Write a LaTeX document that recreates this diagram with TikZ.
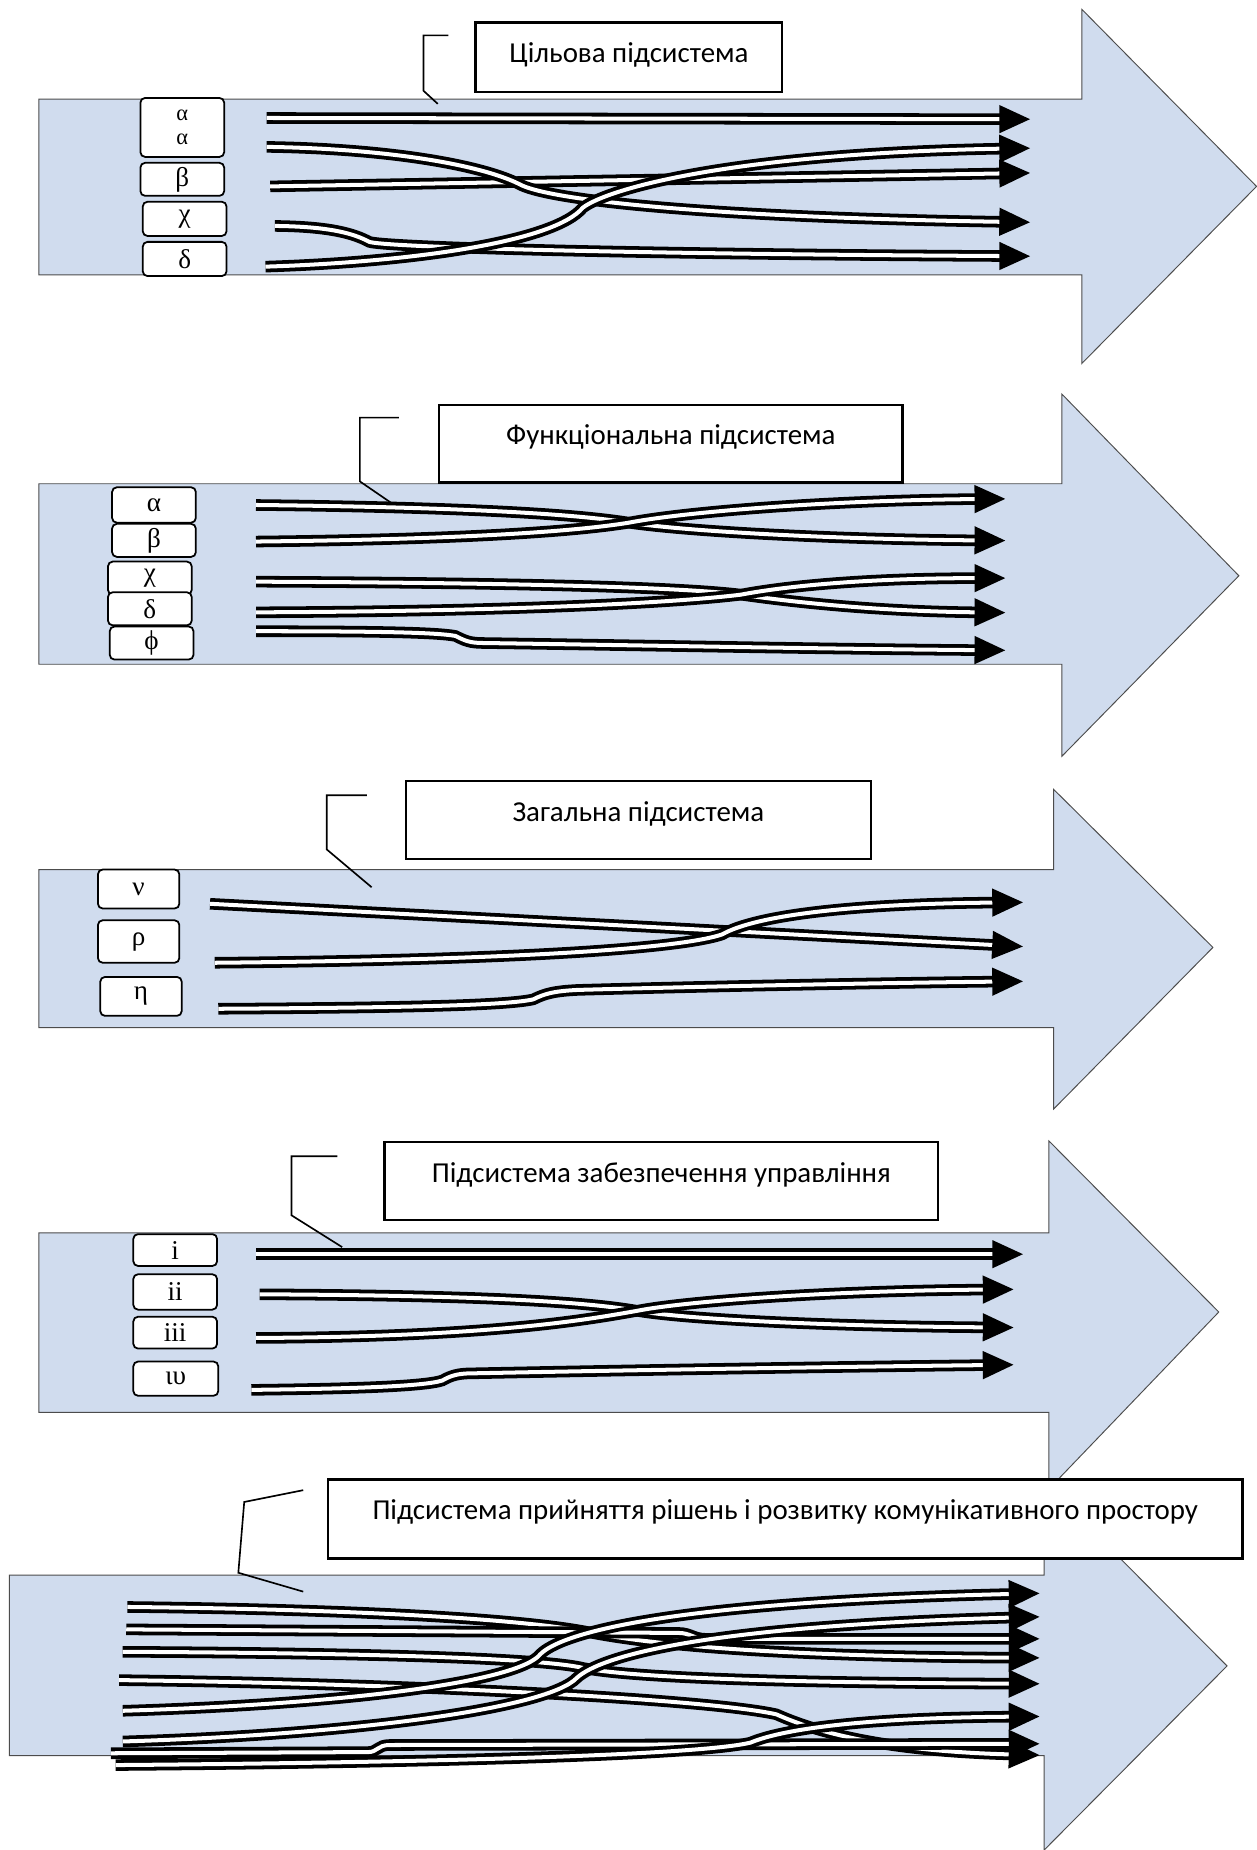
\documentclass[tikz,border=0pt]{standalone}
\usepackage{fontspec}
\setmainfont{Liberation Serif}
\newfontfamily\titlefont{Carlito}
\usetikzlibrary{decorations.markings}
\definecolor{azul}{RGB}{208,220,238}

\begin{document}
\begin{tikzpicture}[x=1pt, y=-1pt,
    flecha/.style={fill=azul, draw=black!70, line width=0.8pt},
    caja/.style={draw, fill=white, line width=2pt, inner sep=0pt,
      text height=34pt, text depth=#1, anchor=north west,
      font=\titlefont\fontsize{24.5}{28}\selectfont},
    llamada/.style={line width=1.4pt},
    etiqueta/.style={draw, fill=white, rounded corners=4pt, line width=1.5pt,
      minimum width=71pt, inner sep=0pt, align=center,
      font=\fontsize{23}{20}\selectfont},
    flujo/.style={double=white, double distance=3.4pt, line width=3.2pt,
      postaction={decorate}, decoration={markings, mark=at position -0.01pt
        with {\fill[black] (-2pt,-12pt) -- (24pt,0pt) -- (-2pt,12pt) -- cycle;}}}]

    \useasboundingbox (0,0) rectangle (1065,1568);

    % Primera flecha: subsistema objetivo.
    \draw[flecha] (33,84) -- (917,84) -- (917,8) -- (1065,158) -- (917,308)
      -- (917,233) -- (33,233) -- cycle;
    \node[caja=25pt, minimum width=260pt] (t1) at (402,18) {Цільова підсистема};
    \draw[llamada] (380,30) -- (359,30) -- (359,77) -- (371,88);
    \node[etiqueta, minimum height=50pt, font=\fontsize{19}{21}\selectfont] (a1)
      at (154.5,108) {α\\α};
    \node[etiqueta, minimum height=28pt] (b1) at (154.5,152) {β};
    \node[etiqueta, minimum height=29pt] (c1) at (156.5,185.5) {χ};
    \node[etiqueta, minimum height=29pt] (d1) at (156.5,219.5) {δ};

    \coordinate (p11) at (226,100);   \coordinate (q11) at (849,101);
    \coordinate (p12) at (226,124.5); \coordinate (q12) at (849,188);
    \coordinate (p13) at (229,158);   \coordinate (q13) at (849,147);
    \coordinate (p14) at (233,191.5); \coordinate (q14) at (849,217);
    \coordinate (p15) at (225,226);   \coordinate (q15) at (849,126);
    \draw[flujo] (p11) -- (q11);
    \draw[flujo] (p13) -- (q13);
    \draw[flujo] (p12) .. controls (330,126) and (410,140) .. (442,157)
      .. controls (470,170) and (600,184) .. (q12);
    \draw[flujo] (p14) .. controls (280,192) and (300,198) .. (313,205)
      .. controls (325,209) and (500,215) .. (q14);
    \draw[flujo] (p15) .. controls (350,222) and (470,205) .. (494,176)
      .. controls (515,160) and (620,130) .. (q15);

    % Segunda flecha: subsistema funcional.
    \draw[flecha] (33,410) -- (900,410) -- (900,334) -- (1050,488) -- (900,641)
      -- (900,563) -- (33,563) -- cycle;
    \node[caja=32pt, minimum width=393pt] (t2) at (371,342) {Функціональна підсистема};
    \draw[llamada] (338,354) -- (305,354) -- (305,408) -- (340,432);
    \node[etiqueta, minimum height=30pt] (a2) at (130.5,428) {α};
    \node[etiqueta, minimum height=28pt] (b2) at (130.5,458) {β};
    \node[etiqueta, minimum height=28pt] (c2) at (127,490) {χ};
    \node[etiqueta, minimum height=28pt] (d2) at (127,516) {δ};
    \node[etiqueta, minimum height=28pt] (e2) at (128.5,545) {ϕ};

    \coordinate (p21) at (217,428); \coordinate (q21) at (828,458);
    \coordinate (p22) at (217,459); \coordinate (q22) at (828,423);
    \coordinate (p23) at (217,493); \coordinate (q23) at (828,519);
    \coordinate (p24) at (217,519); \coordinate (q24) at (828,490);
    \coordinate (p25) at (217,535); \coordinate (q25) at (828,551);
    \draw[flujo] (p21) .. controls (400,430) and (490,436) .. (533,443)
      .. controls (580,450) and (700,457) .. (q21);
    \draw[flujo] (p22) .. controls (400,457) and (490,450) .. (533,443)
      .. controls (580,434) and (700,424) .. (q22);
    \draw[flujo] (p23) .. controls (450,494) and (580,498) .. (628,504)
      .. controls (670,510) and (740,518) .. (q23);
    \draw[flujo] (p24) .. controls (450,518) and (580,510) .. (628,504)
      .. controls (670,496) and (740,490) .. (q24);
    \draw[flujo] (p25) .. controls (320,535) and (370,536) .. (386,539)
      .. controls (394,543) and (398,545) .. (410,545)
      .. controls (550,547) and (700,550) .. (q25);

    % Tercera flecha: subsistema general.
    \draw[flecha] (33,737) -- (893,737) -- (893,669) -- (1028,803) -- (893,940)
      -- (893,871) -- (33,871) -- cycle;
    \node[caja=32pt, minimum width=394pt] (t3) at (343,661) {Загальна підсистема};
    \draw[llamada] (311,674) -- (277,674) -- (277,720) -- (315,752);
    \node[etiqueta, minimum width=69pt, minimum height=33pt] (a3) at (117.5,753.5) {ν};
    \node[etiqueta, minimum width=69pt, minimum height=36pt] (b3) at (117.5,798) {ρ};
    \node[etiqueta, minimum width=69pt, minimum height=33pt] (c3) at (119.5,844.5) {η};

    \coordinate (p31) at (178,766); \coordinate (q31) at (843,801);
    \coordinate (p32) at (182,816); \coordinate (q32) at (843,765);
    \coordinate (p33) at (185,855); \coordinate (q33) at (843,832);
    \draw[flujo] (p31) -- (q31);
    \draw[flujo] (p32) .. controls (400,814) and (570,806) .. (612,792)
      .. controls (640,776) and (720,766) .. (q32);
    \draw[flujo] (p33) .. controls (350,854) and (430,852) .. (452,847)
      .. controls (462,842) and (470,840) .. (490,839)
      .. controls (600,836) and (750,833) .. (q33);

    % Cuarta flecha: subsistema de apoyo a la gestión.
    \draw[flecha] (33,1045) -- (889,1045) -- (889,967) -- (1033,1112) -- (889,1262)
      -- (889,1197) -- (33,1197) -- cycle;
    \node[caja=32pt, minimum width=469pt] (t4) at (325,967) {Підсистема забезпечення управління};
    \draw[llamada] (286,980) -- (247,980) -- (247,1030) -- (290,1057);
    \node[etiqueta, minimum height=27pt] (a4) at (148.5,1059.5) {i};
    \node[etiqueta, minimum height=30pt] (b4) at (148.5,1095) {ii};
    \node[etiqueta, minimum height=27pt] (c4) at (148.5,1129.5) {iii};
    \node[etiqueta, minimum width=72pt, minimum height=29pt] (d4) at (149,1168.5) {ιυ};

    \coordinate (p41) at (217,1063); \coordinate (q41) at (843,1063);
    \coordinate (p42) at (220,1097); \coordinate (q42) at (835,1125);
    \coordinate (p43) at (217,1134); \coordinate (q43) at (835,1093);
    \coordinate (p44) at (213,1178); \coordinate (q44) at (835,1157);
    \draw[flujo] (p41) -- (q41);
    \draw[flujo] (p42) .. controls (420,1098) and (500,1104) .. (540,1111)
      .. controls (580,1118) and (700,1124) .. (q42);
    \draw[flujo] (p43) .. controls (420,1133) and (500,1118) .. (540,1111)
      .. controls (580,1103) and (700,1094) .. (q43);
    \draw[flujo] (p44) .. controls (300,1177) and (360,1175) .. (375,1170)
      .. controls (382,1166) and (388,1164) .. (400,1164)
      .. controls (600,1160) and (750,1158) .. (q44);

    % Quinta flecha: subsistema de decisiones y espacio comunicativo.
    \draw[flecha] (8,1335) -- (885,1335) -- (885,1256) -- (1040,1412) -- (885,1568)
      -- (885,1488) -- (8,1488) -- cycle;
    \node[caja=33pt, minimum width=775pt] (t5) at (277,1253)
      {Підсистема прийняття рішень і розвитку комунікативного простору};
    \draw[llamada] (257,1263) -- (207,1273) -- (202,1333) -- (257,1349);

    \coordinate (p51) at (104,1450); \coordinate (q51) at (857,1351);
    \coordinate (p52) at (104,1476); \coordinate (q52) at (857,1371);
    \coordinate (p53) at (107,1381); \coordinate (q53) at (857,1389);
    \coordinate (p54) at (108,1362); \coordinate (q54) at (857,1405);
    \coordinate (p55) at (104,1400); \coordinate (q55) at (857,1427);
    \coordinate (p56) at (98,1496);  \coordinate (q56) at (857,1455);
    \coordinate (p57) at (94,1486);  \coordinate (q57) at (857,1478);
    \coordinate (p58) at (101,1424); \coordinate (q58) at (857,1487);
    \draw[flujo] (p54) .. controls (300,1364) and (440,1372) .. (497,1383)
      .. controls (560,1396) and (680,1404) .. (q54);
    \draw[flujo] (p53) -- (575,1384) .. controls (585,1384) and (588,1389) .. (598,1389)
      -- (q53);
    \draw[flujo] (p55) .. controls (300,1401) and (450,1405) .. (491,1413)
      .. controls (520,1420) and (620,1426) .. (q55);
    \draw[flujo] (p58) .. controls (350,1427) and (600,1440) .. (658,1453)
      .. controls (685,1465) and (740,1484) .. (q58);
    \draw[flujo] (p51) .. controls (300,1444) and (440,1425) .. (458,1402)
      .. controls (475,1385) and (560,1358) .. (q51);
    \draw[flujo] (p52) .. controls (300,1470) and (465,1448) .. (489,1422)
      .. controls (510,1403) and (600,1378) .. (q52);
    \draw[flujo] (p57) -- (312,1485) .. controls (320,1485) and (320,1479) .. (330,1479)
      -- (q57);
    \draw[flujo] (p56) .. controls (350,1494) and (590,1488) .. (636,1477)
      .. controls (660,1467) and (720,1456) .. (q56);

\end{tikzpicture}
\end{document}
